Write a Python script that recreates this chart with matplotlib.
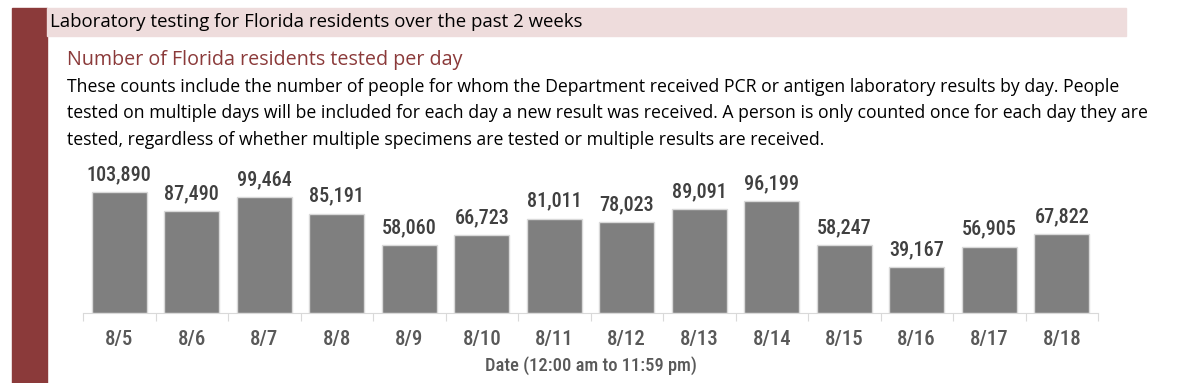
import matplotlib.pyplot as plt
from matplotlib.patches import Rectangle

dates = ['8/5', '8/6', '8/7', '8/8', '8/9', '8/10', '8/11', '8/12', '8/13',
         '8/14', '8/15', '8/16', '8/17', '8/18']
tested = [103890, 87490, 99464, 85191, 58060, 66723, 81011, 78023, 89091,
          96199, 58247, 39167, 56905, 67822]

title = 'Laboratory testing for Florida residents over the past 2 weeks'
subtitle = 'Number of Florida residents tested per day'
para = ('These counts include the number of people for whom the Department received PCR or antigen laboratory results by day. People\n'
        'tested on multiple days will be included for each day a new result was received. A person is only counted once for each day they are\n'
        'tested, regardless of whether multiple specimens are tested or multiple results are received.')

W, H = 1200, 383
fig = plt.figure(figsize=(12, 3.83), dpi=100)

# side bar and header band
fig.patches.append(Rectangle((12 / W, 0), 35 / W, 1 - 8 / H, transform=fig.transFigure,
                             color='#8b3a3a', zorder=0))
fig.patches.append(Rectangle((47 / W, 1 - 36 / H), (1126 - 47) / W, 28 / H,
                             transform=fig.transFigure, color='#eedcdc', zorder=0))

fig.text(50 / W, 1 - 22 / H, title, fontsize=13.4, va='center', color='black',
         family='Open Sans')
fig.text(67 / W, 1 - 60 / H, subtitle, fontsize=14.2, va='center', color='#8b3a3a',
         family='Open Sans')
fig.text(67 / W, 1 - 78 / H, para, fontsize=12.7, va='top', color='black',
         family='Open Sans', linespacing=1.6)

ax = fig.add_axes([83 / W, 70 / H, 1015 / W, 163 / H])
x = range(len(dates))
ax.bar(x, tested, width=0.76, color='#7f7f7f', edgecolor='#d9d9d9', linewidth=1)
for xi, v in zip(x, tested):
    ax.text(xi, v + 7000, f'{v:,}', ha='center', va='bottom', fontsize=14.5,
            color='#404040', family='Roboto Condensed', fontweight='medium')

ax.set_xlim(-0.5, len(dates) - 0.5)
ax.set_ylim(0, 140000)
ax.set_yticks([])
for s in ['top', 'right', 'left']:
    ax.spines[s].set_visible(False)
ax.spines['bottom'].set_color('#d9d9d9')
ax.set_xticks([i - 0.5 for i in range(len(dates) + 1)])
ax.set_xticklabels([])
ax.tick_params(axis='x', length=6, color='#d9d9d9')
ax.set_xticks(list(x), minor=True)
ax.set_xticklabels(dates, minor=True, fontsize=15, color='#595959',
                   family='Roboto Condensed', fontweight='medium')
ax.tick_params(axis='x', which='minor', length=0, pad=12)
ax.set_xlabel('Date (12:00 am to 11:59 pm)', fontsize=13.3, color='#595959',
              family='Roboto Condensed', fontweight='medium', labelpad=5)

fig.savefig('out.png', dpi=100)
